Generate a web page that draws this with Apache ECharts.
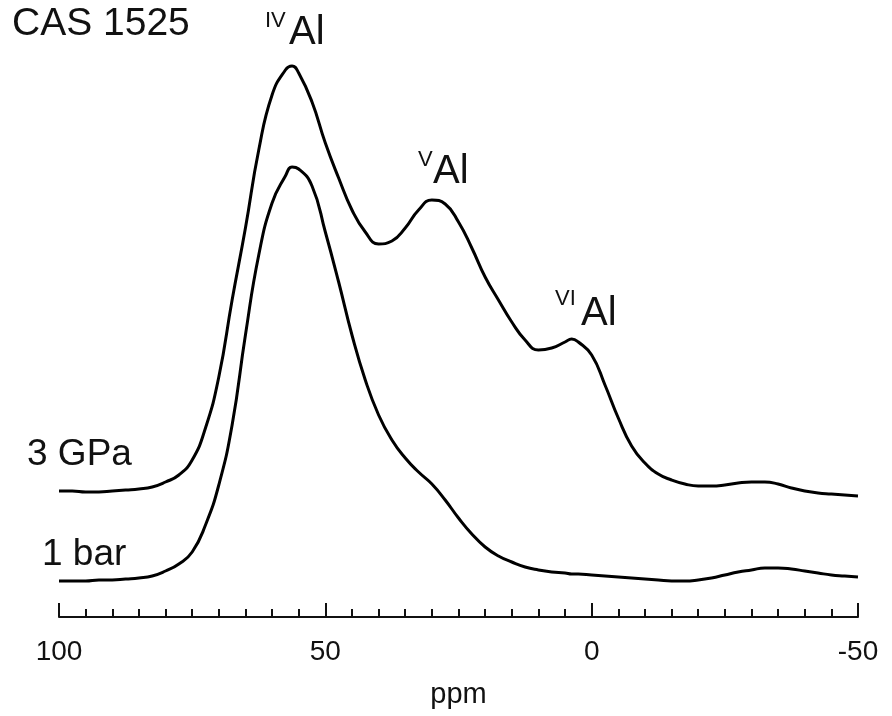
<!DOCTYPE html>
<html>
<head>
<meta charset="utf-8">
<script src="https://cdn.jsdelivr.net/npm/echarts@6/dist/echarts.min.js"></script>
<style>
  html, body { margin: 0; padding: 0; background: #fff; }
  #chart { width: 892px; height: 716px; }
</style>
</head>
<body>
<div id="chart"></div>
<script>
// chemical shift (ppm), read every 2.5 ppm plus the peak tops
const ppm = [100, 97.5, 95, 92.5, 90, 87.5, 85, 82.5, 80, 77.5, 75, 72.5, 70, 67.5, 65, 62.5, 60, 57.5, 56.25, 55, 52.5,
  50, 47.5, 45, 42.5, 40, 37.5, 35, 32.5, 30, 27.5, 25, 22.5, 20, 17.5, 15, 12.5, 10, 7.5, 5, 3.75, 2.5,
  0, -2.5, -5, -7.5, -10, -12.5, -15, -17.5, -20, -22.5, -25, -27.5, -30, -32.5, -35, -37.5, -40, -42.5, -45, -47.5, -50]

// intensity, arbitrary units (traces stacked with an offset)
const gpa3 = [126, 126, 125, 125, 126, 127, 128, 130, 135, 142, 157, 189, 240, 317, 389, 467, 522, 547, 551, 544, 515,
  474, 439, 407, 385, 373, 376, 389, 407, 417, 413, 395, 369, 340, 317, 295, 277, 267, 269, 275, 278, 275,
  262, 232, 199, 171, 154, 143, 137, 133, 131, 131, 132, 134, 135, 135, 133, 129, 126, 124, 123, 122, 121]

const bar1 = [36, 36, 36, 37, 37, 38, 39, 41, 46, 53, 65, 92, 132, 192, 282, 362, 414, 441, 450, 448, 431,
  385, 335, 282, 237, 202, 177, 159, 145, 133, 117, 99, 83, 70, 61, 55, 50, 47, 45, 44, 43, 43,
  42, 41, 40, 39, 38, 37, 36, 36, 37, 39, 42, 45, 47, 49, 49, 48, 46, 44, 42, 41, 40]

const xTicks = [100, 50, 0, -50]

const chart = echarts.init(document.getElementById('chart'))

function pairs(xs, ys) {
  return xs.map((x, i) => [x, ys[i]])
}

const fam = 'Liberation Sans, Arial, sans-serif'

const option = {
  animation: false,
  backgroundColor: '#ffffff',
  grid: { left: 59, right: 34, top: 17, bottom: 99 },
  xAxis: {
    type: 'value',
    inverse: true,
    min: -50,
    max: 100,
    interval: 50,
    name: 'ppm',
    nameLocation: 'middle',
    nameGap: 63,
    nameTextStyle: { fontSize: 29, color: '#111', fontFamily: fam },
    axisLine: { lineStyle: { color: '#111', width: 2 } },
    axisTick: { inside: true, length: 14, lineStyle: { color: '#111', width: 2 } },
    minorTick: { show: true, splitNumber: 10, length: 8, lineStyle: { color: '#111', width: 2 } },
    splitLine: { show: false },
    axisLabel: {
      margin: 21,
      fontSize: 28,
      color: '#111',
      fontFamily: fam,
      formatter: v => (xTicks.includes(v) ? String(v) : '')
    }
  },
  yAxis: {
    type: 'value',
    min: 0,
    max: 600,
    show: false
  },
  series: [
    {
      name: '3 GPa',
      type: 'line',
      smooth: 0.5,
      symbol: 'none',
      lineStyle: { color: '#000', width: 3 },
      data: pairs(ppm, gpa3)
    },
    {
      name: '1 bar',
      type: 'line',
      smooth: 0.5,
      symbol: 'none',
      lineStyle: { color: '#000', width: 3 },
      data: pairs(ppm, bar1)
    }
  ],
  graphic: [
    { type: 'text', left: 12, top: 5, style: { text: 'CAS 1525', font: '39px ' + fam, fill: '#111' } },
    { type: 'text', left: 27, top: 436, style: { text: '3 GPa', font: '37px ' + fam, fill: '#111' } },
    { type: 'text', left: 42, top: 536, style: { text: '1 bar', font: '37px ' + fam, fill: '#111' } },
    { type: 'text', left: 265, top: 10, style: { text: 'IV', font: '22px ' + fam, fill: '#111' } },
    { type: 'text', left: 289, top: 13, style: { text: 'Al', font: '40px ' + fam, fill: '#111' } },
    { type: 'text', left: 418, top: 149, style: { text: 'V', font: '22px ' + fam, fill: '#111' } },
    { type: 'text', left: 433, top: 152, style: { text: 'Al', font: '40px ' + fam, fill: '#111' } },
    { type: 'text', left: 555, top: 288, style: { text: 'VI', font: '22px ' + fam, fill: '#111' } },
    { type: 'text', left: 581, top: 294, style: { text: 'Al', font: '40px ' + fam, fill: '#111' } }
  ]
}

chart.setOption(option)
</script>
</body>
</html>
